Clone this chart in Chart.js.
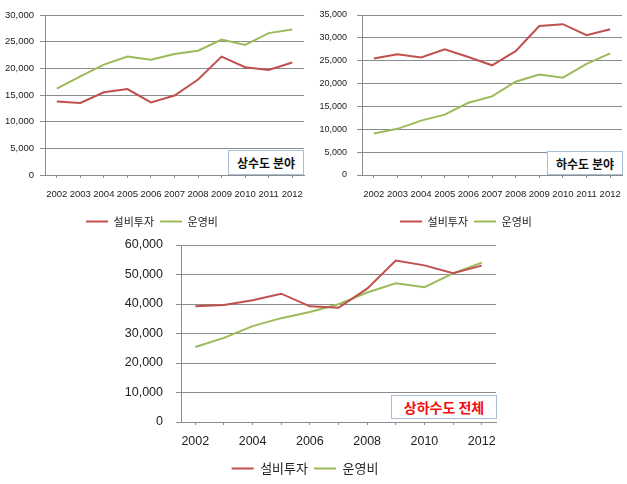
<!DOCTYPE html>
<html>
<head>
<meta charset="utf-8">
<script src="https://cdn.jsdelivr.net/npm/chart.js@4"></script>
<style>
  html, body { margin: 0; padding: 0; background: #fff; }
  body { width: 627px; height: 484px; position: relative; overflow: hidden; }
  .wrap { position: absolute; }
  .tag { position: absolute; background: #fff; border: 1px solid #a9bfd9; box-sizing: border-box;
         font-family: "Noto Sans CJK KR", sans-serif; font-weight: bold; display: flex;
         align-items: center; justify-content: center; z-index: 5; }
</style>
</head>
<body>
<div class="wrap" style="left:0;top:0;width:310px;height:238px;"><canvas id="c1"></canvas></div>
<div class="wrap" style="left:310px;top:0;width:317px;height:238px;"><canvas id="c2"></canvas></div>
<div class="wrap" style="left:114px;top:230px;width:400px;height:255px;"><canvas id="c3"></canvas></div>
<div class="tag" style="left:228px;top:150px;width:76px;height:25px;font-size:12px;color:#111;">상수도 분야</div>
<div class="tag" style="left:547px;top:151px;width:76px;height:24px;font-size:12px;color:#111;">하수도 분야</div>
<div class="tag" style="left:391px;top:395px;width:106px;height:24px;font-size:14px;color:#f01010;">상하수도 전체</div>
<script>
const years = ['2002','2003','2004','2005','2006','2007','2008','2009','2010','2011','2012'];
const seriesNames = ['설비투자', '운영비'];
const waterInvest = [13800, 13500, 15500, 16100, 13600, 14900, 17900, 22200, 20200, 19700, 21100];
const waterOper   = [16200, 18500, 20700, 22200, 21600, 22700, 23300, 25400, 24400, 26600, 27300];
const sewerInvest = [25500, 26400, 25700, 27500, 25800, 24000, 27100, 32600, 33000, 30600, 31900];
const sewerOper   = [9100, 10100, 11900, 13200, 15800, 17200, 20400, 22000, 21300, 24300, 26600];
const totalInvest = [39200, 39700, 41300, 43500, 39200, 38700, 45200, 54700, 53100, 50400, 53000];
const totalOper   = [25400, 28500, 32500, 35200, 37300, 39900, 43900, 47000, 45700, 50400, 54000];

const RED = '#c0504d', GREEN = '#9bbb59';
const FONT = '"Liberation Sans", "Noto Sans CJK KR", sans-serif';

function makeChart(id, w, h, inv, op, o) {
  const cv = document.getElementById(id);
  cv.width = w; cv.height = h;
  cv.style.width = w + 'px'; cv.style.height = h + 'px';
  return new Chart(cv, {
    type: 'line',
    data: {
      labels: years,
      datasets: [
        { label: seriesNames[0], data: inv, borderColor: RED, backgroundColor: RED, borderWidth: 2, pointRadius: 0, tension: 0 },
        { label: seriesNames[1], data: op, borderColor: GREEN, backgroundColor: GREEN, borderWidth: 2, pointRadius: 0, tension: 0 }
      ]
    },
    options: {
      responsive: false,
      animation: false,
      devicePixelRatio: 1,
      layout: { padding: { top: o.padTop, right: o.padRight, bottom: o.padBottom, left: 0 } },
      plugins: {
        tooltip: { enabled: false },
        legend: {
          position: 'bottom',
          labels: {
            usePointStyle: true, pointStyle: 'line', pointStyleWidth: o.legBox,
            padding: o.legPad, color: '#222',
            font: { family: '"Noto Sans CJK KR", sans-serif', size: o.legFont }
          }
        }
      },
      scales: {
        x: {
          offset: true,
          afterFit: s => { s.height = o.xH; },
          border: { display: true, color: '#8c8c8c', width: 1 },
          grid: { display: true, drawOnChartArea: false, offset: false, tickLength: 3, color: '#8c8c8c' },
          ticks: {
            autoSkip: false, maxRotation: 0, padding: 3, color: '#222',
            font: { family: FONT, size: o.tickFont, lineHeight: o.xLH },
            callback: function (v, i) { return (o.every2 && i % 2 === 1) ? '' : this.getLabelForValue(v); }
          }
        },
        y: {
          min: 0, max: o.yMax,
          afterFit: s => { s.width = o.yW; },
          border: { display: true, color: '#8c8c8c', width: 1 },
          grid: { color: '#8c8c8c', drawTicks: true, tickLength: 5 },
          ticks: {
            stepSize: o.step, padding: o.yPad, color: '#222',
            font: { family: FONT, size: o.yFont, lineHeight: o.yLH },
            callback: v => v.toLocaleString('en-US')
          }
        }
      }
    }
  });
}

makeChart('c1', 310, 238, waterInvest, waterOper,
  { padTop: 15, padRight: 6, padBottom: 1, xH: 35, xLH: '26px', yW: 45, yPad: 6, yLH: 0.5, yMax: 30000, step: 5000,
    tickFont: 9.5, yFont: 9.5, legFont: 11, legBox: 22, legPad: 6, every2: false });
makeChart('c2', 317, 238, sewerInvest, sewerOper,
  { padTop: 15, padRight: 5, padBottom: 1, xH: 35, xLH: '26px', yW: 52, yPad: 10, yLH: 0.5, yMax: 35000, step: 5000,
    tickFont: 9.5, yFont: 9, legFont: 11, legBox: 22, legPad: 6, every2: false });
makeChart('c3', 400, 255, totalInvest, totalOper,
  { padTop: 15, padRight: 18, padBottom: 0, xH: 34, xLH: '28px', yW: 67, yPad: 13, yLH: 0.2, yMax: 60000, step: 10000,
    tickFont: 12.5, yFont: 12.5, legFont: 13, legBox: 22, legPad: 6, every2: true });
</script>
</body>
</html>
